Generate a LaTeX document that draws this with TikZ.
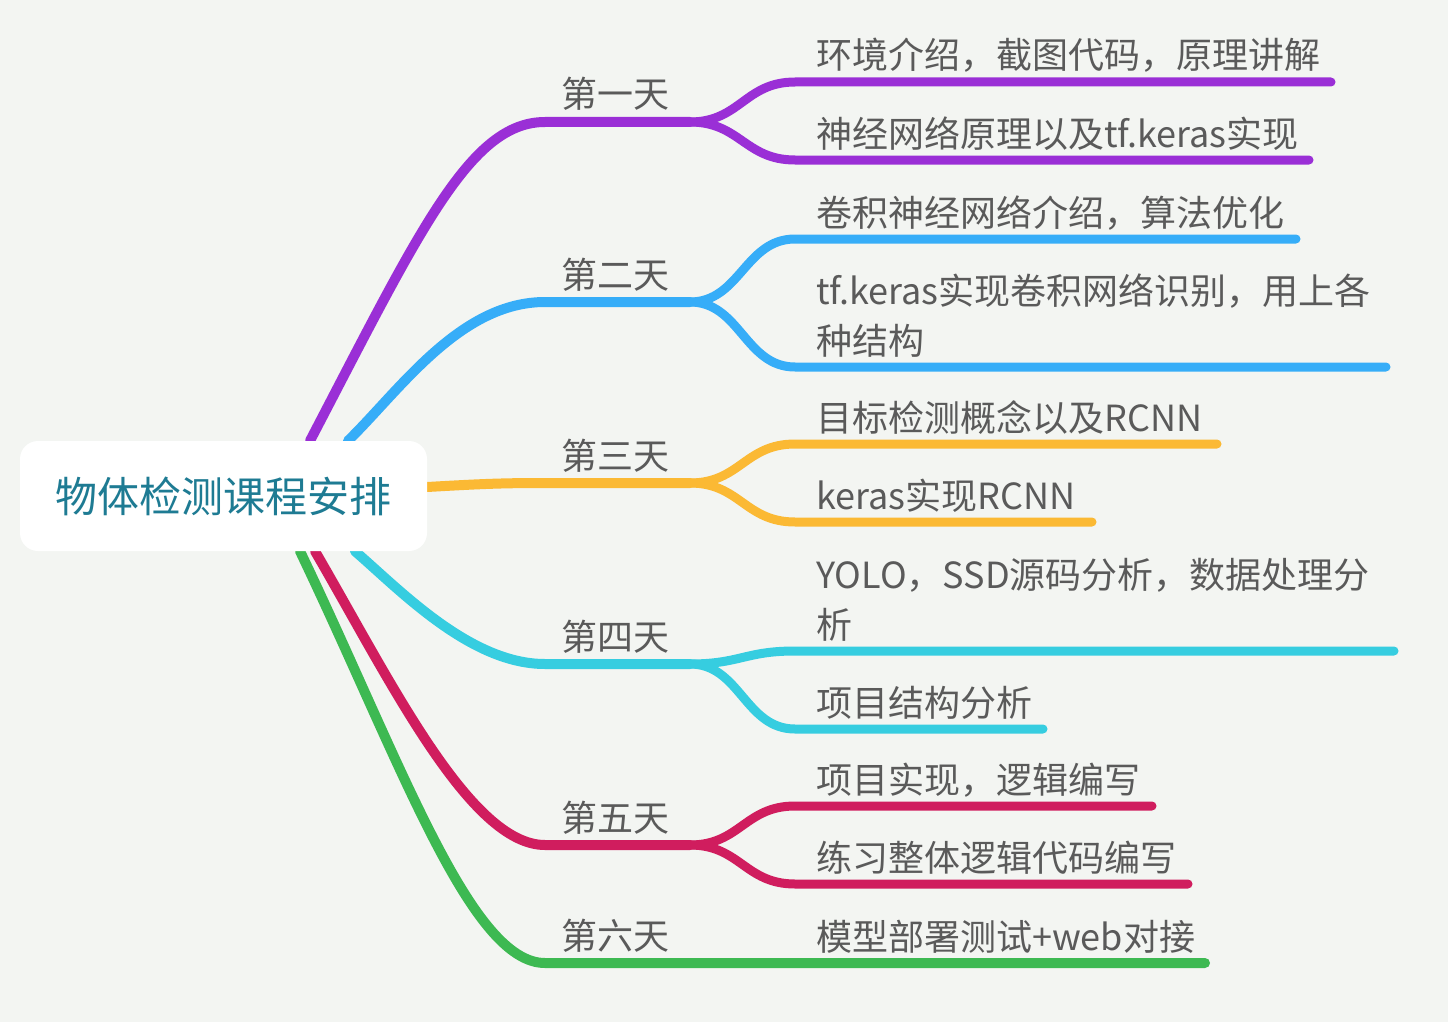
\documentclass[tikz,border=0pt]{standalone}
\usepackage{fontspec}
\setmainfont{Noto Sans CJK SC}
\usetikzlibrary{backgrounds}
\definecolor{bgcol}{HTML}{F3F5F2}
\definecolor{txtgray}{HTML}{5A5A5A}
\definecolor{roottext}{HTML}{1E7B93}
\definecolor{daya}{HTML}{9A2FD6}
\definecolor{dayb}{HTML}{36ADF8}
\definecolor{dayc}{HTML}{FBB934}
\definecolor{dayd}{HTML}{36CDE0}
\definecolor{daye}{HTML}{D01D5E}
\definecolor{dayf}{HTML}{3DB952}
\begin{document}
\begin{tikzpicture}[x=1pt,y=-1pt,
  rootbox/.style={fill=white,rounded corners=18pt,minimum width=407pt,minimum height=110pt,inner sep=0pt,text=roottext,font=\fontsize{42}{48}\selectfont},
  daylabel/.style={anchor=base,inner sep=0pt,text=txtgray,font=\fontsize{36}{40}\selectfont},
  topic/.style={anchor=base west,inner sep=0pt,align=left,text=txtgray,font=\fontsize{36}{50}\selectfont},
  branch/.style={line width=10pt,line cap=round},
  twig/.style={line width=9pt,line cap=round}]
\useasboundingbox (0,0) rectangle (1448,1022);
% root
\node[rootbox] (root) at (223.5,496) {物体检测课程安排};
% days
\node[daylabel] (d1) at (615,108) {第一天};
\node[daylabel] (d2) at (615,288) {第二天};
\node[daylabel] (d3) at (615,469) {第三天};
\node[daylabel] (d4) at (615,650) {第四天};
\node[daylabel] (d5) at (615,831) {第五天};
\node[daylabel] (d6) at (615,949) {第六天};
% topics (two-line ones sit on their last line)
\node[topic] (t11) at (816,69) {环境介绍，截图代码，原理讲解};
\node[topic] (t12) at (816,147) {神经网络原理以及tf.keras实现};
\node[topic] (t21) at (816,226) {卷积神经网络介绍，算法优化};
\node[topic] (t22) at (816,354) {tf.keras实现卷积网络识别，用上各\\种结构};
\node[topic] (t31) at (816,431) {目标检测概念以及RCNN};
\node[topic] (t32) at (816,509) {keras实现RCNN};
\node[topic] (t41) at (816,638) {YOLO，SSD源码分析，数据处理分\\析};
\node[topic] (t42) at (816,716) {项目结构分析};
\node[topic] (t51) at (816,793) {项目实现，逻辑编写};
\node[topic] (t52) at (816,871) {练习整体逻辑代码编写};
\node[topic] (t61) at (816,950) {模型部署测试+web对接};
% line points
\coordinate (s1) at (545,122); \coordinate (f1) at (690,122);
\coordinate (s2) at (545,302); \coordinate (f2) at (690,302);
\coordinate (s3) at (545,483); \coordinate (f3) at (690,483);
\coordinate (s4) at (545,664); \coordinate (f4) at (690,664);
\coordinate (s5) at (545,845); \coordinate (f5) at (690,845);
\coordinate (s6) at (545,963);
\coordinate (u11) at (795,82);  \coordinate (e11) at (1331,82);
\coordinate (u12) at (795,160); \coordinate (e12) at (1309,160);
\coordinate (u21) at (795,239); \coordinate (e21) at (1296,239);
\coordinate (u22) at (795,367); \coordinate (e22) at (1386,367);
\coordinate (u31) at (795,444); \coordinate (e31) at (1217,444);
\coordinate (u32) at (795,522); \coordinate (e32) at (1092,522);
\coordinate (u41) at (795,651); \coordinate (e41) at (1394,651);
\coordinate (u42) at (795,729); \coordinate (e42) at (1043,729);
\coordinate (u51) at (795,806); \coordinate (e51) at (1152,806);
\coordinate (u52) at (795,884); \coordinate (e52) at (1188,884);
\coordinate (e61) at (1205,963);
\begin{scope}[on background layer]
\fill[bgcol] (0,0) rectangle (1448,1022);
% root to days
\draw[branch,daya] ([xshift=86.5pt]root.north) .. controls (420,230) and (470,122) .. (s1) -- (f1);
\draw[branch,dayb] ([xshift=124.5pt]root.north) .. controls (400,390) and (460,302) .. (s2) -- (f2);
\draw[branch,dayc] ([yshift=9pt]root.east) .. controls (480,484) and (500,483) .. (s3) -- (f3);
\draw[branch,dayd] ([xshift=131.5pt]root.south) .. controls (400,590) and (470,664) .. (s4) -- (f4);
\draw[branch,daye] ([xshift=91.5pt]root.south) .. controls (390,680) and (470,845) .. (s5) -- (f5);
\draw[branch,dayf] ([xshift=76.5pt]root.south) .. controls (400,760) and (470,963) .. (s6) -- (e61);
% days to topics
\foreach \c/\f/\u/\e in {daya/f1/u11/e11,daya/f1/u12/e12,dayb/f2/u21/e21,dayb/f2/u22/e22,
    dayc/f3/u31/e31,dayc/f3/u32/e32,dayd/f4/u41/e41,dayd/f4/u42/e42,daye/f5/u51/e51,daye/f5/u52/e52}
  \draw[twig,\c] (\f) .. controls +(50,0) and +(-50,0) .. (\u) -- (\e);
\end{scope}
\end{tikzpicture}
\end{document}
